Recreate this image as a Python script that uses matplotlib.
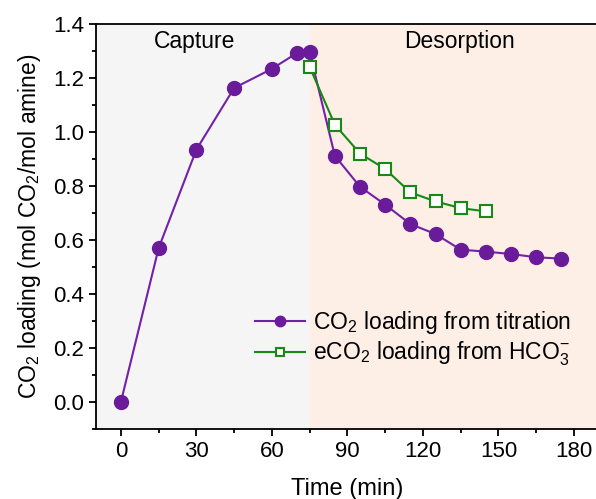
import matplotlib
matplotlib.use('Agg')
import matplotlib.pyplot as plt
from matplotlib.ticker import MultipleLocator

plt.rcParams['font.family'] = ['Liberation Sans', 'DejaVu Sans']
plt.rcParams['mathtext.fontset'] = 'custom'
plt.rcParams['mathtext.rm'] = 'Liberation Sans'
plt.rcParams['mathtext.it'] = 'Liberation Sans'
plt.rcParams['mathtext.default'] = 'regular'

# titration data
t_titr = [0, 15, 30, 45, 60, 70, 75, 85, 95, 105, 115, 125, 135, 145, 155, 165, 175]
co2_titr = [0.0, 0.57, 0.935, 1.163, 1.234, 1.293, 1.295, 0.912, 0.797, 0.731,
            0.659, 0.622, 0.564, 0.557, 0.548, 0.536, 0.531]

# bicarbonate data
t_hco3 = [75, 85, 95, 105, 115, 125, 135, 145]
co2_hco3 = [1.241, 1.027, 0.920, 0.863, 0.776, 0.743, 0.718, 0.706]

capture_end = 75
purple = '#6a1b9a'
green = '#158a15'

fig = plt.figure(figsize=(5.96, 4.99), dpi=100)
ax = fig.add_axes([0.1606, 0.1403, 0.8447, 0.8116])

ax.axvspan(-10, capture_end, color='#f5f5f5', zorder=0, lw=0)
ax.axvspan(capture_end, 190, color='#fdeee6', zorder=0, lw=0)

ax.plot(t_titr, co2_titr, '-o', color='#7420a8', mfc=purple, mec=purple,
        ms=10, lw=1.5, label='CO$_2$ loading from titration', zorder=3)
ax.plot(t_hco3, co2_hco3, '-s', color=green, mfc='white', mec=green,
        ms=8.5, mew=1.5, lw=1.5, label='eCO$_2$ loading from HCO$_3^{-}$', zorder=4)

ax.text(29.4, 1.334, 'Capture', fontsize=16.5, ha='center', va='center')
ax.text(134.6, 1.334, 'Desorption', fontsize=16.5, ha='center', va='center')

ax.set_xlim(-10, 190)
ax.set_ylim(-0.1, 1.4)
ax.xaxis.set_major_locator(MultipleLocator(30))
ax.xaxis.set_minor_locator(MultipleLocator(15))
ax.yaxis.set_major_locator(MultipleLocator(0.2))
ax.yaxis.set_minor_locator(MultipleLocator(0.1))
ax.yaxis.set_major_formatter(plt.FormatStrFormatter('%.1f'))
ax.tick_params(which='major', direction='out', length=5, width=1.3, labelsize=16)
ax.tick_params(which='minor', direction='out', length=3, width=1.3)
ax.spines['right'].set_visible(False)
for s in ['left', 'bottom', 'top']:
    ax.spines[s].set_linewidth(1.3)

ax.set_xlabel('Time (min)', fontsize=17, labelpad=12)
ax.set_ylabel('CO$_2$ loading (mol CO$_2$/mol amine)', fontsize=16.5, labelpad=7)

ax.legend(loc='center left', bbox_to_anchor=(0.316, 0.223), frameon=False,
          fontsize=16.5, markerscale=0.75, handlelength=2.2, handletextpad=0.35,
          labelspacing=0.17, borderpad=0, borderaxespad=0)

fig.savefig('out.png', dpi=100)
